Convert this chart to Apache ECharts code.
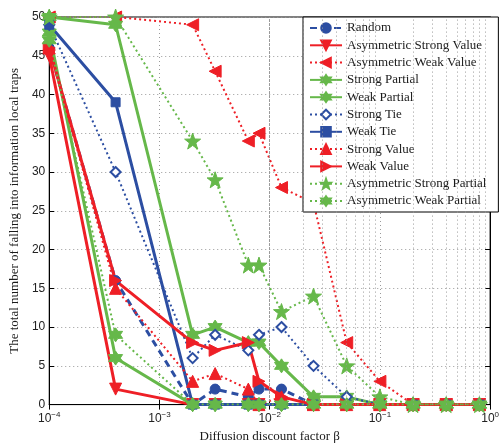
<!DOCTYPE html>
<html>
<head>
<meta charset="utf-8">
<script src="https://cdn.jsdelivr.net/npm/echarts@6/dist/echarts.min.js"></script>
<style>
  html, body { margin: 0; padding: 0; background: #fff; }
  #chart { width: 502px; height: 448px; }
</style>
</head>
<body>
<div id="chart"></div>
<script>
// Diffusion discount factor beta (x positions shared by every curve)
const betaValues = [1e-4, 4e-4, 2e-3, 3.2e-3, 6.4e-3, 8e-3, 1.28e-2, 2.5e-2, 5e-2, 0.1, 0.2, 0.4, 0.8];

// Number of walks falling into information local traps, per strategy
const randomVals            = [46, 16, 0, 2, 1, 2, 2, 0, 0, 0, 0, 0, 0];
const asymStrongValueVals   = [45, 2, 0, 0, 0, 0, 0, 0, 0, 0, 0, 0, 0];
const asymWeakValueVals     = [50, 50, 49, 43, 34, 35, 28, 26, 8, 3, 0, 0, 0];
const strongPartialVals     = [50, 49, 9, 10, 8, 8, 5, 1, 1, 0, 0, 0, 0];
const weakPartialVals       = [48, 6, 0, 0, 0, 0, 0, 0, 0, 0, 0, 0, 0];
const strongTieVals         = [49, 30, 6, 9, 7, 9, 10, 5, 1, 0, 0, 0, 0];
const weakTieVals           = [49, 39, 0, 0, 0, 0, 0, 0, 0, 0, 0, 0, 0];
const strongValueVals       = [46, 15, 3, 4, 2, 0, 1, 0, 0, 0, 0, 0, 0];
const weakValueVals         = [46, 16, 8, 7, 8, 3, 1, 0, 0, 0, 0, 0, 0];
const asymStrongPartialVals = [50, 50, 34, 29, 18, 18, 12, 14, 5, 1, 0, 0, 0];
const asymWeakPartialVals   = [47, 9, 0, 0, 0, 0, 0, 0, 0, 0, 0, 0, 0];

// Axis settings
const xMin = 1e-4, xMax = 1;
const yMin = 0, yMax = 50, yStep = 5;
const minorBeta = [];
for (let e = -4; e < 0; e++) {
  for (let m = 2; m <= 9; m++) minorBeta.push(m * Math.pow(10, e));
}

const BLUE = '#2c4ea2';
const RED = '#ee1f26';
const GREEN = '#66b84a';

const PENTAGRAM = 'path://M0,-10 L2.35,-3.24 L9.51,-3.09 L3.8,1.24 L5.88,8.09 L0,4 L-5.88,8.09 L-3.8,1.24 L-9.51,-3.09 L-2.35,-3.24 Z';
const HEXAGRAM = 'path://M0,-10 L2.9,-5 L8.66,-5 L5.8,0 L8.66,5 L2.9,5 L0,10 L-2.9,5 L-8.66,5 L-5.8,0 L-8.66,-5 L-2.9,-5 Z';

function pairs(vals) {
  return betaValues.map((b, i) => [b, vals[i]]);
}

function curve(name, vals, color, lineType, width, symbol, size, opts) {
  return Object.assign({
    name: name,
    type: 'line',
    data: pairs(vals),
    symbol: symbol,
    symbolSize: size,
    showSymbol: true,
    lineStyle: { color: color, width: width, type: lineType },
    itemStyle: { color: color, borderColor: color, borderWidth: 1 },
    emphasis: { disabled: true },
    animation: false
  }, opts || {});
}

const series = [
  // minor log grid lines drawn through the x scale
  {
    name: 'minorGrid',
    type: 'line',
    data: [],
    silent: true,
    animation: false,
    z: 1,
    markLine: {
      silent: true,
      symbol: 'none',
      label: { show: false },
      animation: false,
      lineStyle: { color: '#9a9a9a', width: 1, type: [1, 3] },
      data: minorBeta.map(v => ({ xAxis: v }))
    }
  },
  curve('Random', randomVals, BLUE, [7, 5], 3, 'circle', 10),
  curve('Asymmetric Strong Value', asymStrongValueVals, RED, 'solid', 3, 'triangle', 12, { symbolRotate: 180 }),
  curve('Asymmetric Weak Value', asymWeakValueVals, RED, [2, 3], 2, 'triangle', 12, { symbolRotate: 90 }),
  curve('Strong Partial', strongPartialVals, GREEN, 'solid', 3, HEXAGRAM, 14),
  curve('Weak Partial', weakPartialVals, GREEN, 'solid', 3, HEXAGRAM, 14),
  curve('Strong Tie', strongTieVals, BLUE, [2, 3], 2, 'emptyDiamond', 10, {
    itemStyle: { color: BLUE, borderColor: BLUE, borderWidth: 2.5 }
  }),
  curve('Weak Tie', weakTieVals, BLUE, 'solid', 3, 'rect', 9),
  curve('Strong Value', strongValueVals, RED, [2, 3], 2, 'triangle', 12),
  curve('Weak Value', weakValueVals, RED, 'solid', 3, 'triangle', 12, { symbolRotate: -90 }),
  curve('Asymmetric Strong Partial', asymStrongPartialVals, GREEN, [2, 3], 2, PENTAGRAM, 16),
  curve('Asymmetric Weak Partial', asymWeakPartialVals, GREEN, [2, 3], 2, HEXAGRAM, 14)
];

const legendNames = series.filter(s => s.name !== 'minorGrid').map(s => s.name);

const tickFont = 'Liberation Sans, Arial, sans-serif';
const serifFont = 'Liberation Serif, Times New Roman, serif';

const chart = echarts.init(document.getElementById('chart'), null, { renderer: 'canvas' });
chart.setOption({
  backgroundColor: '#fff',
  animation: false,
  grid: {
    left: 43.5, right: 5, top: 17, bottom: 33,
    show: true, borderColor: '#000', borderWidth: 1, backgroundColor: 'transparent'
  },
  legend: {
    data: legendNames,
    orient: 'vertical',
    left: 303,
    top: 17,
    padding: [4, 12, 4, 6],
    itemGap: 3.3,
    itemWidth: 32,
    itemHeight: 12,
    backgroundColor: '#fff',
    borderColor: '#000',
    borderWidth: 1,
    textStyle: { fontFamily: serifFont, fontSize: 13, lineHeight: 14, color: '#1a1a1a' },
    selectedMode: false
  },
  xAxis: [{
    type: 'log',
    logBase: 10,
    min: xMin,
    max: xMax,
    position: 'bottom',
    name: 'Diffusion discount factor \u03b2',
    nameLocation: 'middle',
    nameGap: 22,
    nameTextStyle: { fontFamily: serifFont, fontSize: 13, color: '#1a1a1a' },
    axisLine: { lineStyle: { color: '#000', width: 1 } },
    axisTick: { inside: true, length: 5, lineStyle: { color: '#000' } },
    axisLabel: {
      margin: 6,
      formatter: function (v) {
        const e = Math.round(Math.log10(v));
        return '{b|10}{s|' + (e === 0 ? '0' : String(e).replace('-', '\u2212')) + '}';
      },
      rich: {
        b: { fontFamily: tickFont, fontSize: 12, color: '#222' },
        s: { fontFamily: tickFont, fontSize: 8, color: '#222', padding: [0, 0, 9, 0] }
      }
    },
    splitLine: { show: true, lineStyle: { color: '#9a9a9a', width: 1, type: [1, 3] } }
  }, {
    type: 'log',
    logBase: 10,
    min: xMin,
    max: xMax,
    position: 'top',
    axisLine: { lineStyle: { color: '#000', width: 1 } },
    axisTick: { inside: true, length: 5, lineStyle: { color: '#000' } },
    axisLabel: { show: false },
    splitLine: { show: false }
  }],
  yAxis: [{
    type: 'value',
    min: yMin,
    max: yMax,
    interval: yStep,
    position: 'left',
    name: 'The total number of falling into information local traps',
    nameLocation: 'middle',
    nameGap: 22,
    nameTextStyle: { fontFamily: serifFont, fontSize: 13, color: '#1a1a1a' },
    axisLine: { show: true, lineStyle: { color: '#000', width: 1 } },
    axisTick: { show: true, inside: true, length: 5, lineStyle: { color: '#000' } },
    axisLabel: { fontFamily: tickFont, fontSize: 12, color: '#222', margin: 4 },
    splitLine: { show: true, lineStyle: { color: '#9a9a9a', width: 1, type: [1, 3] } }
  }, {
    type: 'value',
    min: yMin,
    max: yMax,
    interval: yStep,
    position: 'right',
    axisLine: { show: true, lineStyle: { color: '#000', width: 1 } },
    axisTick: { show: true, inside: true, length: 5, lineStyle: { color: '#000' } },
    axisLabel: { show: false },
    splitLine: { show: false }
  }],
  series: series
});
</script>
</body>
</html>
